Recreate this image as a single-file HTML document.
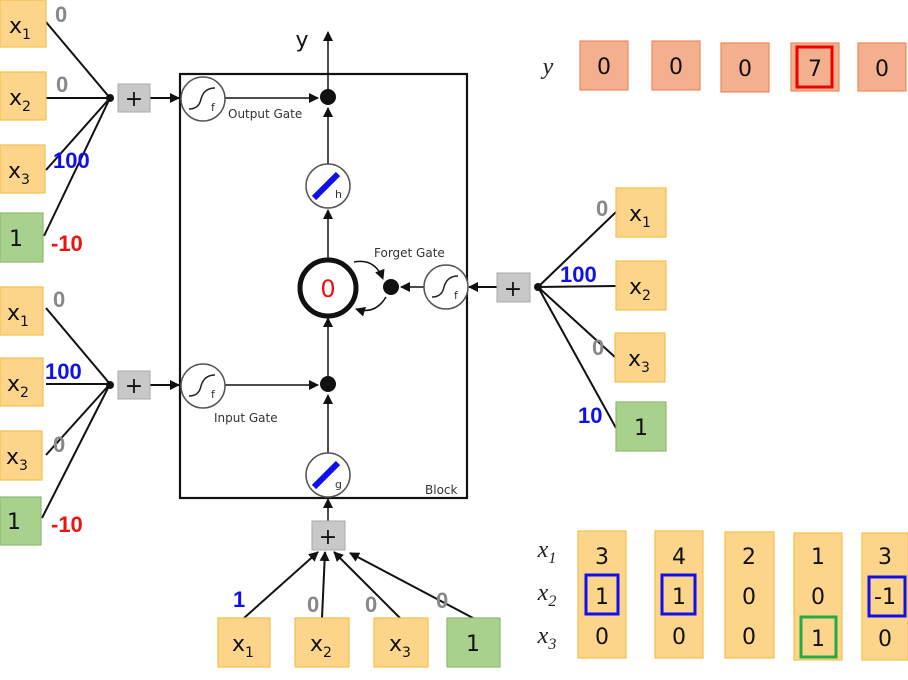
<!DOCTYPE html>
<html><head><meta charset="utf-8"><style>
html,body{margin:0;padding:0;background:#fff;}
svg{display:block;}
text{font-family:"DejaVu Sans","Liberation Sans",sans-serif;}
.v{font-size:22px;fill:#111;text-anchor:middle;}
.w{font-size:22px;font-weight:bold;font-family:"Liberation Sans",sans-serif;}
.g{fill:#888;}.b{fill:#1010ee;}.r{fill:#ee1111;}
.lbl{font-size:12px;fill:#333;}
.it{font-family:"Liberation Serif",serif;font-style:italic;font-size:24px;fill:#222;text-anchor:middle;}
</style></head><body>
<svg width="908" height="680" viewBox="0 0 908 680" xmlns="http://www.w3.org/2000/svg">
<defs>
<marker id="a" markerWidth="10" markerHeight="10" refX="9" refY="5" orient="auto" markerUnits="userSpaceOnUse"><path d="M0,0 L10,5 L0,10 z" fill="#111"/></marker>
<g id="sig"><circle r="22" fill="#fff" stroke="#555" stroke-width="1.5"/><path d="M-14,10 Q-4,10 -2,0 Q1,-11 12,-11" fill="none" stroke="#222" stroke-width="1.5"/><text x="8" y="12" font-size="11" fill="#333">f</text></g>
<g id="lin"><circle r="22" fill="#fff" stroke="#555" stroke-width="1.5"/><line x1="-14" y1="12" x2="10" y2="-12" stroke="#1010ee" stroke-width="6"/></g>
</defs>
<g stroke="#111" stroke-width="2" fill="none">
<!-- left top -->
<line x1="46" y1="22" x2="110" y2="98"/><line x1="46" y1="98" x2="110" y2="98"/><line x1="46" y1="170" x2="110" y2="98"/><line x1="44" y1="236" x2="110" y2="98"/>
<line x1="150" y1="98" x2="179" y2="98" marker-end="url(#a)"/>
<!-- left bottom -->
<line x1="46" y1="308" x2="110" y2="384"/><line x1="46" y1="384" x2="110" y2="384"/><line x1="46" y1="455" x2="110" y2="384"/><line x1="42" y1="518" x2="110" y2="384"/>
<line x1="150" y1="385" x2="179" y2="385" marker-end="url(#a)"/>
<!-- block -->
<rect x="180" y="74" width="287" height="424" stroke-width="2.2"/>
<line x1="225" y1="98" x2="318" y2="98" stroke-width="1.5" marker-end="url(#a)"/>
<line x1="328" y1="97" x2="328" y2="32" stroke-width="1.5" marker-end="url(#a)"/>
<line x1="328" y1="164" x2="328" y2="108" stroke-width="1.5" marker-end="url(#a)"/>
<line x1="328" y1="258" x2="328" y2="210" stroke-width="1.5" marker-end="url(#a)"/>
<line x1="328" y1="384" x2="328" y2="318" stroke-width="1.5" marker-end="url(#a)"/>
<line x1="225" y1="385" x2="318" y2="385" stroke-width="1.5" marker-end="url(#a)"/>
<line x1="328" y1="453" x2="328" y2="395" stroke-width="1.5" marker-end="url(#a)"/>
<line x1="328" y1="521" x2="328" y2="499" stroke-width="1.5" marker-end="url(#a)"/>
<line x1="424" y1="287" x2="401" y2="287" stroke-width="1.5" marker-end="url(#a)"/>
<path d="M354,262 Q375,258 383,279" stroke-width="1.5" marker-end="url(#a)"/>
<path d="M386,297 Q375,315 356,309" stroke-width="1.5" marker-end="url(#a)"/>
<!-- right -->
<line x1="497" y1="287" x2="469" y2="287" marker-end="url(#a)"/>
<line x1="616" y1="212" x2="538" y2="287"/><line x1="616" y1="286" x2="538" y2="287"/><line x1="616" y1="358" x2="538" y2="287"/><line x1="616" y1="428" x2="538" y2="287"/>
<!-- bottom -->
<line x1="244" y1="618" x2="318" y2="552" marker-end="url(#a)"/>
<line x1="322" y1="618" x2="325" y2="552" marker-end="url(#a)"/>
<line x1="400" y1="618" x2="334" y2="552" marker-end="url(#a)"/>
<line x1="473" y1="618" x2="350" y2="553" marker-end="url(#a)"/>
</g>
<circle cx="110" cy="98" r="4" fill="#111"/><circle cx="110" cy="385" r="4" fill="#111"/><circle cx="538" cy="287" r="4" fill="#111"/>
<circle cx="328" cy="97" r="8" fill="#111"/><circle cx="328" cy="384" r="8" fill="#111"/><circle cx="391" cy="287" r="8" fill="#111"/>
<circle cx="328" cy="288" r="28" fill="#fff" stroke="#111" stroke-width="5"/>
<text x="328" y="297" font-size="24" fill="#ee1111" text-anchor="middle">0</text>
<use href="#sig" x="203" y="99"/><use href="#sig" x="203" y="386"/><use href="#sig" x="446" y="287"/>
<use href="#lin" x="328" y="186"/><use href="#lin" x="328" y="475"/>
<text x="335" y="198" font-size="11" fill="#333">h</text><text x="335" y="488" font-size="11" fill="#333">g</text>
<text x="228" y="118" class="lbl">Output Gate</text><text x="374" y="257" class="lbl">Forget Gate</text>
<text x="214" y="422" class="lbl">Input Gate</text><text x="425" y="494" class="lbl">Block</text>
<text x="302" y="47" font-size="22" fill="#111" text-anchor="middle">y</text>
<!-- plus boxes -->
<g fill="#c8c8c8" stroke="#aaa"><rect x="118" y="84" width="32" height="28"/><rect x="118" y="371" width="32" height="28"/><rect x="497" y="273" width="33" height="29"/><rect x="312" y="521" width="33" height="29"/></g>
<g font-size="22" fill="#111" text-anchor="middle"><text x="134" y="106">+</text><text x="134" y="393">+</text><text x="513" y="296">+</text><text x="328" y="544">+</text></g>
<!-- input boxes -->
<g fill="#fdd58a" stroke="#f5c04a" stroke-width="1.2">
<rect x="0" y="0" width="46" height="47"/><rect x="0" y="72" width="46" height="48"/><rect x="0" y="145" width="45" height="48"/>
<rect x="0" y="287" width="43" height="48"/><rect x="0" y="358" width="43" height="48"/><rect x="0" y="431" width="42" height="49"/>
<rect x="616" y="188" width="50" height="49"/><rect x="616" y="261" width="50" height="49"/><rect x="615" y="333" width="50" height="49"/>
<rect x="218" y="618" width="52" height="49"/><rect x="295" y="618" width="54" height="49"/><rect x="374" y="618" width="54" height="49"/>
<rect x="578" y="531" width="48" height="127"/><rect x="655" y="531" width="48" height="127"/><rect x="725" y="532" width="49" height="126"/><rect x="794" y="533" width="48" height="127"/><rect x="862" y="533" width="46" height="127"/>
</g>
<g fill="#a9d18e" stroke="#8dbb70" stroke-width="1.2">
<rect x="0" y="213" width="43" height="49"/><rect x="0" y="497" width="41" height="48"/><rect x="616" y="402" width="50" height="49"/><rect x="447" y="618" width="53" height="49"/>
</g>
<g class="v">
<text x="20" y="33">x<tspan font-size="14" dy="6">1</tspan></text><text x="20" y="105">x<tspan font-size="14" dy="6">2</tspan></text><text x="19" y="178">x<tspan font-size="14" dy="6">3</tspan></text><text x="16" y="246">1</text>
<text x="18" y="320">x<tspan font-size="14" dy="6">1</tspan></text><text x="18" y="391">x<tspan font-size="14" dy="6">2</tspan></text><text x="17" y="464">x<tspan font-size="14" dy="6">3</tspan></text><text x="14" y="529">1</text>
<text x="640" y="221">x<tspan font-size="14" dy="6">1</tspan></text><text x="640" y="294">x<tspan font-size="14" dy="6">2</tspan></text><text x="639" y="366">x<tspan font-size="14" dy="6">3</tspan></text><text x="641" y="435">1</text>
<text x="243" y="651">x<tspan font-size="14" dy="6">1</tspan></text><text x="321" y="651">x<tspan font-size="14" dy="6">2</tspan></text><text x="400" y="651">x<tspan font-size="14" dy="6">3</tspan></text><text x="473" y="651">1</text>
</g>
<!-- weights -->
<text x="55" y="22" class="w g">0</text><text x="56" y="92" class="w g">0</text><text x="53" y="168" class="w b">100</text><text x="51" y="251" class="w r">-10</text>
<text x="53" y="307" class="w g">0</text><text x="45" y="379" class="w b">100</text><text x="53" y="452" class="w g">0</text><text x="51" y="532" class="w r">-10</text>
<text x="596" y="216" class="w g">0</text><text x="560" y="282" class="w b">100</text><text x="592" y="355" class="w g">0</text><text x="578" y="423" class="w b">10</text>
<text x="233" y="607" class="w b">1</text><text x="307" y="612" class="w g">0</text><text x="365" y="612" class="w g">0</text><text x="436" y="608" class="w g">0</text>
<!-- y row -->
<text x="548" y="74" class="it" font-size="20">y</text>
<g fill="#f4b08e" stroke="#ee8a5a" stroke-width="1.2">
<rect x="580" y="41" width="48" height="49"/><rect x="652" y="41" width="48" height="49"/><rect x="721" y="43" width="48" height="49"/><rect x="791" y="43" width="48" height="48"/><rect x="858" y="43" width="48" height="48"/>
</g>
<rect x="797" y="47" width="35" height="40" fill="none" stroke="#ee0000" stroke-width="3"/>
<g class="v"><text x="604" y="74">0</text><text x="676" y="74">0</text><text x="745" y="76">0</text><text x="815" y="76">7</text><text x="882" y="76">0</text></g>
<!-- table -->
<text x="547" y="557" class="it">x<tspan font-size="16" dy="6">1</tspan></text>
<text x="547" y="600" class="it">x<tspan font-size="16" dy="6">2</tspan></text>
<text x="547" y="643" class="it">x<tspan font-size="16" dy="6">3</tspan></text>
<g class="v">
<text x="602" y="564">3</text><text x="602" y="604">1</text><text x="602" y="644">0</text>
<text x="679" y="564">4</text><text x="679" y="604">1</text><text x="679" y="644">0</text>
<text x="749" y="564">2</text><text x="749" y="604">0</text><text x="749" y="644">0</text>
<text x="818" y="564">1</text><text x="818" y="604">0</text><text x="818" y="646">1</text>
<text x="885" y="564">3</text><text x="885" y="604">-1</text><text x="885" y="646">0</text>
</g>
<g fill="none" stroke-width="3">
<rect x="586" y="575" width="32" height="39" stroke="#1010ee"/><rect x="662" y="575" width="33" height="39" stroke="#1010ee"/>
<rect x="869" y="577" width="36" height="39" stroke="#1010ee"/><rect x="801" y="617" width="35" height="40" stroke="#22aa44"/>
</g>
</svg>
</body></html>
